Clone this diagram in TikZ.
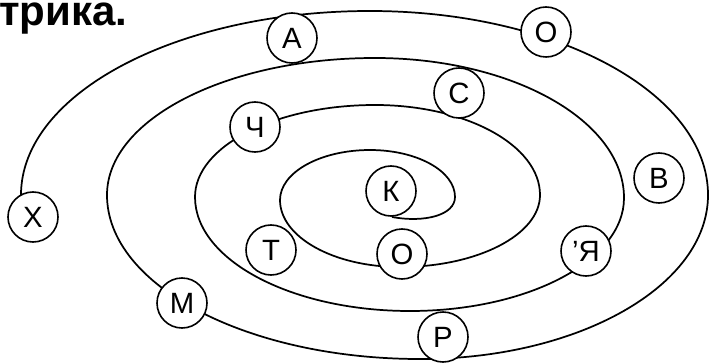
\documentclass[tikz,border=0pt]{standalone}
\usepackage{fontspec}
\setmainfont{Liberation Sans}
\begin{document}
\begin{tikzpicture}[x=0.75pt,y=-0.75pt,
  letter/.style={circle,draw=black,fill=white,line width=1.2pt,minimum size=37.5pt,inner sep=0pt,font=\fontsize{22}{22}\selectfont},
  spiral/.style={line width=1.3pt,line join=round}]
\useasboundingbox (0,0) rectangle (712,363);
\node[anchor=base west,inner sep=0pt,font=\fontsize{31.5}{32}\selectfont\bfseries] (title) at (-1,25.5) {трика.};
\coordinate (s) at (22,210);
\draw[spiral] (s) -- (21,195)
  .. controls (21,93.4) and (177.2,11) .. (370,11)
  .. controls (556.7,11) and (708,93.4) .. (708,195)
  .. controls (708,285.6) and (579.1,359) .. (420,359)
  .. controls (247.1,359) and (107,285.6) .. (107,195)
  .. controls (107,119.3) and (227,58) .. (375,58)
  .. controls (512.5,58) and (624,120.7) .. (624,198)
  .. controls (624,260.4) and (528.2,311) .. (410,311)
  .. controls (291.3,311) and (195,260) .. (195,197)
  .. controls (195,146.2) and (275.6,105) .. (375,105)
  .. controls (466.1,105) and (540,145.3) .. (540,195)
  .. controls (540,234.8) and (477.3,267) .. (400,267)
  .. controls (333.7,267) and (280,237) .. (280,200)
  .. controls (280,172.4) and (320.3,150) .. (370,150)
  .. controls (417,150) and (455,171) .. (455,197)
  .. controls (455,215) and (425,223) .. (392,217);
\node[letter] (x) at (33,217) {Х};
\node[letter] (a) at (292,38) {А};
\node[letter] (o1) at (546,32) {О};
\node[letter] (c) at (459,93) {С};
\node[letter] (ch) at (255,127) {Ч};
\node[letter] (b) at (659,178) {В};
\node[letter] (k) at (391,191) {К};
\node[letter] (o2) at (402,254) {О};
\node[letter] (t) at (271,250) {Т};
\node[letter] (m) at (182,303) {М};
\node[letter] (ya) at (586,251) {’Я};
\node[letter] (p) at (443,337) {Р};
\end{tikzpicture}
\end{document}
